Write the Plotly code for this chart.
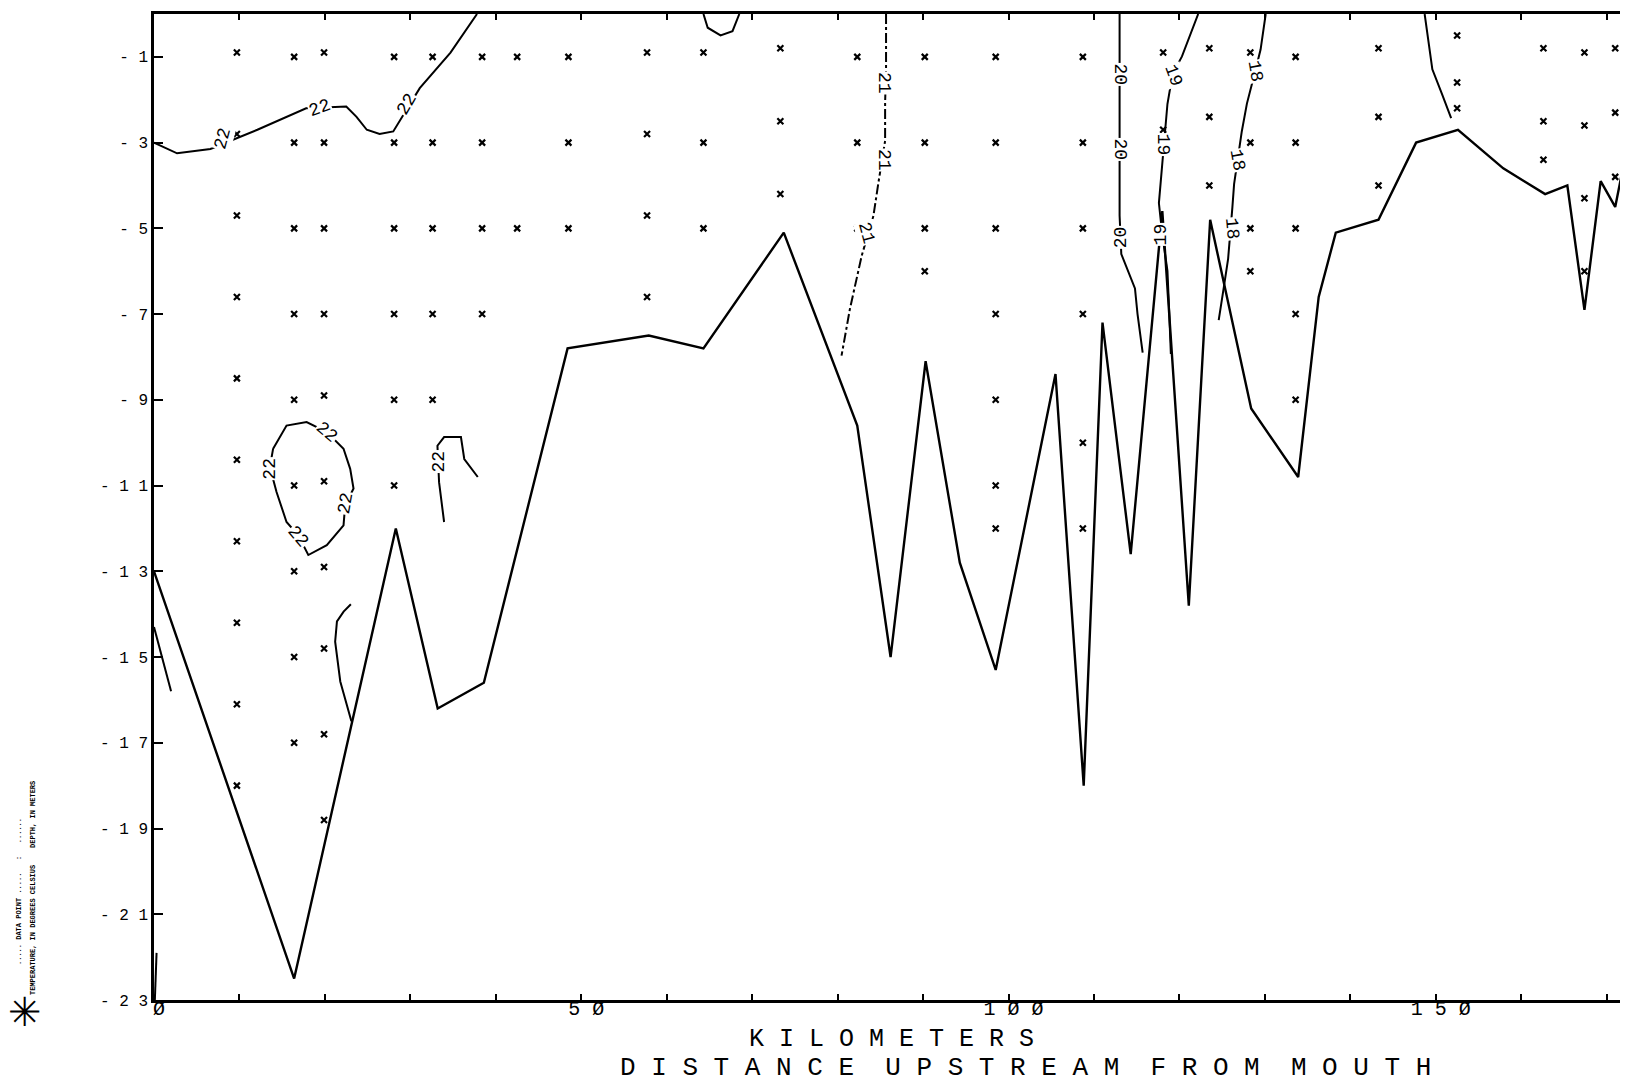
import plotly.graph_objects as go

# ---------------- data ----------------
# sampling stations: distance (km) and sample depths (m)
station_km = [9.7, 16.4, 19.9, 28.1, 32.6, 38.4, 42.5, 48.5, 57.7, 64.3, 73.3,
              82.3, 90.2, 98.5, 108.7, 118.1, 123.5, 128.3, 133.6, 143.3,
              152.5, 162.6, 167.4, 171.0, 173.0]
station_depths = [
    [-0.9, -2.8, -4.7, -6.6, -8.5, -10.4, -12.3, -14.2, -16.1, -18.0],
    [-1, -3, -5, -7, -9, -11, -13, -15, -17],
    [-0.9, -3.0, -5.0, -7.0, -8.9, -10.9, -12.9, -14.8, -16.8, -18.8],
    [-1, -3, -5, -7, -9, -11],
    [-1, -3, -5, -7, -9],
    [-1, -3, -5, -7],
    [-1, -5],
    [-1, -3, -5],
    [-0.9, -2.8, -4.7, -6.6],
    [-0.9, -3, -5],
    [-0.8, -2.5, -4.2],
    [-1, -3, -5],
    [-1, -3, -5, -6],
    [-1, -3, -5, -7, -9, -11, -12],
    [-1, -3, -5, -7, -10, -12],
    [-0.9, -2.7],
    [-0.8, -2.4, -4.0],
    [-0.9, -3.0, -5.0, -6.0],
    [-1, -3, -5, -7, -9],
    [-0.8, -2.4, -4.0],
    [-0.5, -1.6, -2.2],
    [-0.8, -2.5, -3.4],
    [-0.9, -2.6, -4.3, -6.0],
    [-0.8, -2.3, -3.8],
    [-0.5, -1.6],
]

# channel bottom profile
bed_km = [0, 16.4, 28.3, 33.2, 38.6, 48.4, 57.9, 64.3, 73.7, 82.3, 86.2, 90.3,
          94.3, 98.5, 105.5, 108.8, 111.0, 114.3, 118.0, 121.1, 123.6, 128.4,
          133.9, 136.3, 138.3, 143.3, 147.7, 152.6, 157.9, 162.8, 165.4, 167.4,
          169.3, 171.0, 172.4, 173.2]
bed_depth = [-13.0, -22.5, -12.0, -16.2, -15.6, -7.8, -7.5, -7.8, -5.1, -9.6,
             -15.0, -8.1, -12.8, -15.3, -8.4, -18.0, -7.2, -12.6, -4.6, -13.8,
             -4.8, -9.2, -10.8, -6.6, -5.1, -4.8, -3.0, -2.7, -3.6, -4.2, -4.0,
             -6.9, -3.9, -4.5, -3.1, -2.3]

# isotherms (deg C)
c22_top_km = [0, 2.7, 6.6, 12.1, 17.8, 22.5, 23.7, 24.9, 26.4, 28.0, 31.1, 34.7, 37.8]
c22_top_d = [-3.0, -3.25, -3.15, -2.7, -2.2, -2.16, -2.4, -2.7, -2.8, -2.74, -1.73, -0.9, 0]
c22_loop_km = [13.94, 15.51, 17.86, 20.22, 22.18, 22.96, 23.35, 22.37, 22.18, 20.22,
               18.06, 16.88, 15.51, 14.34, 13.56, 13.94]
c22_loop_d = [-10.14, -9.60, -9.52, -9.75, -10.14, -10.61, -11.07, -11.46, -11.93,
              -12.39, -12.62, -12.16, -11.85, -11.15, -10.57, -10.14]
c22_hook_km = [33.95, 33.36, 33.17, 33.95, 35.92, 36.31, 37.89]
c22_hook_d = [-11.85, -10.92, -10.07, -9.87, -9.87, -10.38, -10.80]
c22_low_km = [23.04, 22.19, 21.41, 21.2, 21.8, 23.1]
c22_low_d = [-13.77, -13.94, -14.17, -14.64, -15.57, -16.5]
c_left_km = [0, 2.0]
c_left_d = [-14.3, -15.8]
c_corner_km = [0.3, 0.1]
c_corner_d = [-21.9, -23.0]
c_cup_km = [64.3, 64.8, 66.3, 67.7, 68.5]
c_cup_d = [0, -0.32, -0.5, -0.4, 0]
c21_km = [85.67, 85.67, 85.56, 85.56, 84.78, 84.19, 82.82, 81.44, 80.46]
c21_d = [0, -1.29, -2.07, -2.96, -3.93, -4.71, -5.64, -6.88, -7.97]
c20_km = [113.0, 113.0, 113.2, 114.2, 114.8, 115.1, 115.7]
c20_d = [0, -4.7, -5.6, -6.1, -6.4, -7.0, -7.9]
c19_km = [122.2, 120.3, 119.2, 118.6, 118.2, 117.6, 118.0, 118.6, 118.8, 119.0]
c19_d = [0, -0.99, -1.40, -2.10, -3.02, -4.41, -5.15, -5.99, -6.91, -7.93]
c18_km = [130.1, 129.5, 128.9, 127.9, 127.3, 126.8, 126.4, 126.2, 125.7, 125.2, 124.6]
c18_d = [0, -0.83, -1.31, -2.09, -2.74, -3.37, -3.97, -4.51, -5.71, -6.37, -7.14]
c_right_km = [148.7, 149.6, 150.7, 151.8]
c_right_d = [0, -1.29, -1.85, -2.43]

# contour labels: text, km, depth, angle
label_text = ["22", "22", "22", "22", "22", "22", "22", "22",
              "21", "21", "21", "20", "20", "20", "19", "19", "19",
              "18", "18", "18"]
label_km = [8.1, 19.4, 29.6, 20.2, 22.4, 16.9, 13.6, 33.3,
            85.5, 85.4, 83.4, 113.0, 113.0, 113.1, 119.3, 118.1, 117.8,
            128.9, 126.8, 126.1]
label_d = [-2.9, -2.2, -2.1, -9.75, -11.4, -12.2, -10.6, -10.45,
           -1.6, -3.4, -5.1, -1.4, -3.15, -5.2, -1.45, -3.05, -5.15,
           -1.35, -3.4, -5.0]
label_angle = [-75, -20, -60, 40, -80, 50, -90, -90,
               90, 90, 75, 90, 90, -90, 70, 90, -90,
               80, 80, 85]

y_tickvals = [-1, -3, -5, -7, -9, -11, -13, -15, -17, -19, -21, -23]
y_ticktext = ["-\u00a01", "-\u00a03", "-\u00a05", "-\u00a07", "-\u00a09",
              "-\u00a01\u00a01", "-\u00a01\u00a03", "-\u00a01\u00a05",
              "-\u00a01\u00a07", "-\u00a01\u00a09", "-\u00a02\u00a01", "-\u00a02\u00a03"]
x_tickvals = [0, 10, 20, 30, 40, 50, 60, 70, 80, 90, 100, 110, 120, 130, 140, 150, 160, 170]
x_ticktext = ["\u00d8", "", "", "", "", "5\u00a0\u00d8", "", "", "", "", "1\u00a0\u00d8\u00a0\u00d8",
              "", "", "", "", "1\u00a05\u00a0\u00d8", "", ""]

title_line1 = "K I L O M E T E R S"
title_line2 = "D I S T A N C E  U P S T R E A M  F R O M  M O U T H"
side_note1 = "TEMPERATURE, IN DEGREES CELSIUS    DEPTH, IN METERS"
side_note2 = "..... DATA POINT .....   :   ......"

# ---------------- figure ----------------
MONO = "Liberation Mono, DejaVu Sans Mono, monospace"
W, H = 1628, 1080
ML, MR, MT, MB = 146, 2, 6, 88
plot_l, plot_r, plot_t, plot_b = ML, W - MR, MT, H - MB


def px_to_paper(px, py):
    return (px - plot_l) / (plot_r - plot_l), (plot_b - py) / (plot_b - plot_t)


fig = go.Figure()

pts_x, pts_y = [], []
for km, ds in zip(station_km, station_depths):
    for d in ds:
        pts_x.append(km)
        pts_y.append(d)
fig.add_trace(go.Scatter(x=pts_x, y=pts_y, mode="markers",
                         marker=dict(symbol="x-thin", size=6, color="black",
                                     line=dict(width=2.2, color="black")),
                         hoverinfo="skip"))

fig.add_trace(go.Scatter(x=bed_km, y=bed_depth, mode="lines",
                         line=dict(color="black", width=2.4)))

solid = [(c22_top_km, c22_top_d), (c22_loop_km, c22_loop_d), (c22_hook_km, c22_hook_d),
         (c22_low_km, c22_low_d), (c_left_km, c_left_d), (c_corner_km, c_corner_d),
         (c_cup_km, c_cup_d), (c20_km, c20_d), (c19_km, c19_d), (c18_km, c18_d),
         (c_right_km, c_right_d)]
for cx, cy in solid:
    fig.add_trace(go.Scatter(x=cx, y=cy, mode="lines",
                             line=dict(color="black", width=2)))
fig.add_trace(go.Scatter(x=c21_km, y=c21_d, mode="lines",
                         line=dict(color="black", width=2, dash="10px,3px,3px,3px")))

for t, lx, ly, a in zip(label_text, label_km, label_d, label_angle):
    fig.add_annotation(x=lx, y=ly, xref="x", yref="y", text=t, showarrow=False,
                       textangle=a, bgcolor="white", borderpad=0,
                       font=dict(family=MONO, size=18, color="black"))

ax, ay = px_to_paper(739, 1031)
fig.add_annotation(x=ax, y=ay, xref="paper", yref="paper", text=title_line1,
                   showarrow=False, xanchor="left", yanchor="middle",
                   font=dict(family=MONO, size=25, color="black"))
ax, ay = px_to_paper(610, 1060)
fig.add_annotation(x=ax, y=ay, xref="paper", yref="paper", text=title_line2,
                   showarrow=False, xanchor="left", yanchor="middle",
                   font=dict(family=MONO, size=26, color="black"))

# small side legend
ax, ay = px_to_paper(17, 1004)
fig.add_annotation(x=ax, y=ay, xref="paper", yref="paper", text="\u2733", showarrow=False,
                   xanchor="center", yanchor="middle",
                   font=dict(family="DejaVu Sans", size=40, color="black"))
ax, ay = px_to_paper(25, 880)
fig.add_annotation(x=ax, y=ay, xref="paper", yref="paper", text="<b>" + side_note1 + "</b>",
                   showarrow=False, textangle=-90, xanchor="center", yanchor="middle",
                   font=dict(family=MONO, size=7, color="black"))
ax, ay = px_to_paper(11, 884)
fig.add_annotation(x=ax, y=ay, xref="paper", yref="paper", text="<b>" + side_note2 + "</b>",
                   showarrow=False, textangle=-90, xanchor="center", yanchor="middle",
                   font=dict(family=MONO, size=7, color="black"))

fig.update_layout(
    width=W, height=H,
    margin=dict(l=ML, r=MR, t=MT, b=MB, autoexpand=False),
    paper_bgcolor="white", plot_bgcolor="white",
    showlegend=False,
    xaxis=dict(range=[0, 173.2], tickvals=x_tickvals, ticktext=x_ticktext,
               ticks="inside", ticklen=6, tickwidth=1.5, tickcolor="black",
               showline=True, linecolor="black", linewidth=2.5, mirror="ticks",
               showgrid=False, zeroline=False, automargin=False,
               ticklabelshift=5, ticklabelstandoff=-12,
               tickfont=dict(family=MONO, size=20, color="black")),
    yaxis=dict(range=[-23, 0], tickvals=y_tickvals, ticktext=y_ticktext,
               ticks="inside", ticklen=9, tickwidth=2, tickcolor="black",
               showline=True, linecolor="black", linewidth=2.5, mirror="ticks",
               showgrid=False, zeroline=False, automargin=False,
               tickfont=dict(family=MONO, size=16, color="black")),
)

fig.write_html("out.html")
